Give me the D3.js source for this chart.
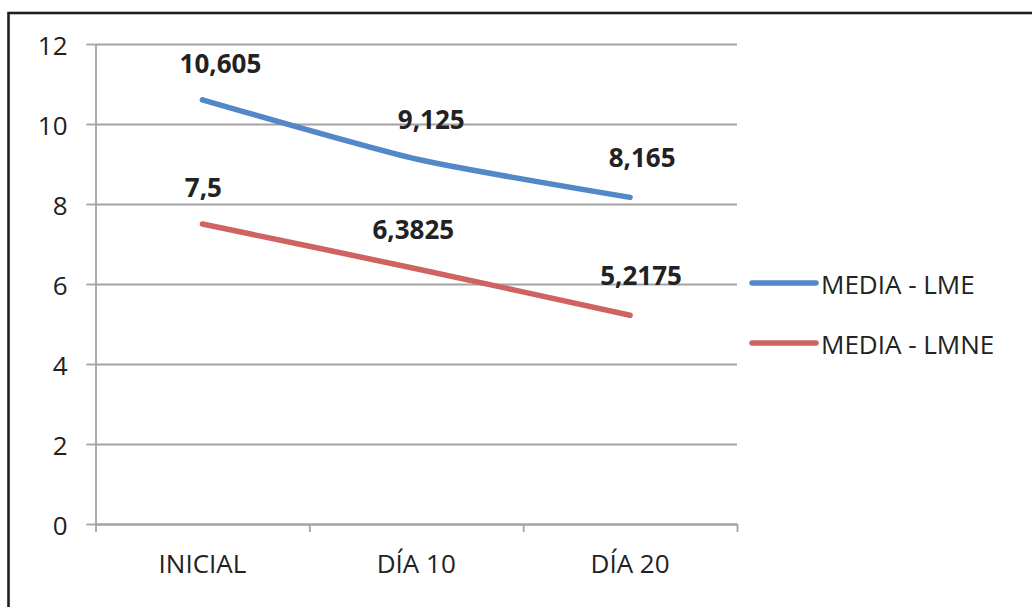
<!DOCTYPE html>
<html>
<head>
<meta charset="utf-8">
<script src="https://cdn.jsdelivr.net/npm/d3@7"></script>
<style>
  body { margin: 0; background: #fff; }
  svg { display: block; font-family: "Open Sans", sans-serif; }
  .grid line { stroke: #a3a3a3; stroke-width: 1.8; }
  .grid .domain { display: none; }
  .axis path, .axis line { stroke: #a3a3a3; stroke-width: 1.8; }
  .axis text { font-family: "Open Sans", sans-serif; font-size: 26px; fill: #222; }
</style>
</head>
<body>
<svg id="chart" width="1032" height="607"></svg>
<script>
const categories = ["INICIAL", "DÍA 10", "DÍA 20"];
const seriesNames = ["MEDIA - LME", "MEDIA - LMNE"];
const lmeValues = [10.605, 9.125, 8.165];
const lmneValues = [7.5, 6.3825, 5.2175];
const lmeLabels = ["10,605", "9,125", "8,165"];
const lmneLabels = ["7,5", "6,3825", "5,2175"];
const yTicks = [0, 2, 4, 6, 8, 10, 12];

const colors = ["#5288c8", "#cf6361"];
// label nudges (px)
const labelDx = [[18, 15, 12], [1, -3, 11]];
const labelDy = [-27, -30, -30];

const plot = {left: 95.5, right: 737, top: 44, bottom: 524};

const svg = d3.select("#chart");

// outer frame (cropped on right/bottom in the original)
svg.append("rect")
    .attr("x", 8.5).attr("y", 13)
    .attr("width", 1040).attr("height", 620)
    .attr("fill", "none")
    .attr("stroke", "#1e1e1e")
    .attr("stroke-width", 2.6);

const xScale = d3.scaleBand()
    .domain(categories)
    .range([plot.left, plot.right])
    .padding(0);

const xEdge = d3.scaleLinear()
    .domain([0, categories.length])
    .range([plot.left, plot.right]);

const yScale = d3.scaleLinear()
    .domain([0, 12])
    .range([plot.bottom, plot.top]);

// gridlines
svg.append("g")
    .attr("class", "grid")
    .attr("transform", `translate(${plot.left},0)`)
    .call(d3.axisLeft(yScale)
        .tickValues(yTicks)
        .tickFormat("")
        .tickSize(-(plot.right - plot.left)));

// y axis
const yAxisG = svg.append("g")
    .attr("class", "axis")
    .attr("transform", `translate(${plot.left},0)`)
    .call(d3.axisLeft(yScale)
        .tickValues(yTicks)
        .tickSize(9)
        .tickSizeOuter(0)
        .tickPadding(19));
yAxisG.selectAll("text").attr("dy", "0.42em");

// x axis ticks at category edges
svg.append("g")
    .attr("class", "axis")
    .attr("transform", `translate(0,${plot.bottom})`)
    .call(d3.axisBottom(xEdge)
        .ticks(categories.length)
        .tickFormat("")
        .tickSize(8)
        .tickSizeOuter(0));

// x labels
const xLab = svg.append("g")
    .attr("class", "axis")
    .attr("transform", `translate(0,${plot.bottom})`)
    .call(d3.axisBottom(xScale).tickSize(0).tickPadding(31));
xLab.select(".domain").remove();

const line = d3.line()
    .x((d, i) => xScale(categories[i]) + xScale.bandwidth() / 2)
    .y(d => yScale(d))
    .curve(d3.curveCardinal.tension(0.4));

const allValues = [lmeValues, lmneValues];
const allLabels = [lmeLabels, lmneLabels];

allValues.forEach((vals, s) => {
    svg.append("path")
        .datum(vals)
        .attr("fill", "none")
        .attr("stroke", colors[s])
        .attr("stroke-width", 5.5)
        .attr("stroke-linecap", "round")
        .attr("stroke-linejoin", "round")
        .attr("d", line);
});

allValues.forEach((vals, s) => {
    svg.append("g").selectAll("text")
        .data(vals)
        .join("text")
        .attr("x", (d, i) => xScale(categories[i]) + xScale.bandwidth() / 2 + labelDx[s][i])
        .attr("y", (d, i) => yScale(d) + labelDy[i])
        .attr("text-anchor", "middle")
        .attr("font-size", 26)
        .attr("font-weight", "bold")
        .attr("fill", "#222")
        .text((d, i) => allLabels[s][i]);
});

// legend
const legend = svg.selectAll(".legend")
    .data(seriesNames)
    .join("g")
    .attr("class", "legend")
    .attr("transform", (d, i) => `translate(752, ${283 + i * 60})`);

legend.append("line")
    .attr("x1", 0).attr("x2", 64)
    .attr("stroke", (d, i) => colors[i])
    .attr("stroke-width", 5.5)
    .attr("stroke-linecap", "round");

legend.append("text")
    .attr("x", 69)
    .attr("y", 11)
    .attr("font-size", 26)
    .attr("fill", "#222")
    .text(d => d);
</script>
</body>
</html>
